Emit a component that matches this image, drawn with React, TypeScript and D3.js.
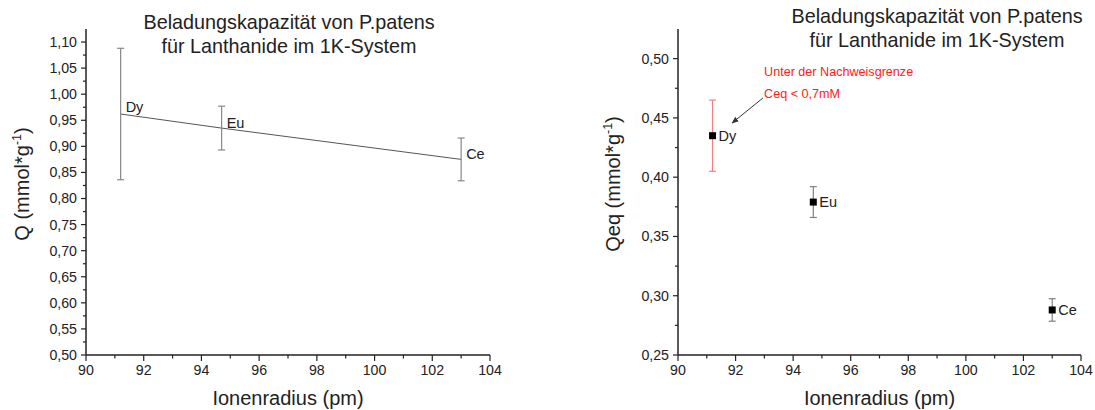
import React from "react";
import * as d3 from "d3";

const elements = ["Dy", "Eu", "Ce"];
const radius = [91.2, 94.7, 103.0];
const qLeft = [0.962, 0.935, 0.875];
const qLeftErr = [0.126, 0.042, 0.041];
const qeq = [0.435, 0.379, 0.288];
const qeqErr = [0.03, 0.013, 0.0095];
const errColorsRight = ["#f08080", "#808080", "#808080"];

const titleLines = ["Beladungskapazität von P.patens", "für Lanthanide im 1K-System"];
const xLabel = "Ionenradius (pm)";
const xMajor = [90, 92, 94, 96, 98, 100, 102, 104];
const xMinor = [91, 93, 95, 97, 99, 101, 103];
const leftYMajor = [0.5, 0.55, 0.6, 0.65, 0.7, 0.75, 0.8, 0.85, 0.9, 0.95, 1.0, 1.05, 1.1];
const rightYMajor = [0.25, 0.3, 0.35, 0.4, 0.45, 0.5];
const annotation = ["Unter der Nachweisgrenze", "Ceq < 0,7mM"];

const FONT = "'Liberation Sans', Arial, sans-serif";
const fmt = (v: number) => d3.format(".2f")(v).replace(".", ",");

type PanelProps = {
  x0: number;
  x1: number;
  yDomain: [number, number];
  yMajor: number[];
  yStep: number;
  yLabelMain: string;
  yLabelX: number;
  titleX: number;
  titleY: number;
};

const Y_TOP = 29;
const Y_BOT = 355;

function Axes({ x0, x1, yDomain, yMajor, yStep, yLabelMain, yLabelX, titleX, titleY }: PanelProps) {
  const x = d3.scaleLinear().domain([90, 104]).range([x0, x1]);
  const y = d3.scaleLinear().domain(yDomain).range([Y_BOT, Y_TOP]);
  const yMinor: number[] = [];
  for (const v of yMajor) {
    const m = v + yStep / 2;
    if (m < yDomain[1]) yMinor.push(m);
  }
  const cx = (x0 + x1) / 2;
  return (
    <g fontFamily={FONT}>
      <text x={titleX} y={titleY} textAnchor="middle" fontSize={19.8} fill="#222">
        {titleLines[0]}
      </text>
      <text x={titleX} y={titleY + 24} textAnchor="middle" fontSize={19.8} fill="#222">
        {titleLines[1]}
      </text>
      <line x1={x0} x2={x0} y1={Y_TOP} y2={Y_BOT} stroke="#222" strokeWidth={1.5} />
      <line x1={x0} x2={x1} y1={Y_BOT} y2={Y_BOT} stroke="#222" strokeWidth={1.5} />
      {yMajor.map((v) => (
        <g key={"ym" + v}>
          <line x1={x0 - 5} x2={x0} y1={y(v)} y2={y(v)} stroke="#222" strokeWidth={1.2} />
          <text x={x0 - 9} y={y(v)} dy="0.35em" textAnchor="end" fontSize={14.2} fill="#222">
            {fmt(v)}
          </text>
        </g>
      ))}
      {yMinor.map((v) => (
        <line key={"yn" + v} x1={x0 - 3} x2={x0} y1={y(v)} y2={y(v)} stroke="#222" strokeWidth={1.2} />
      ))}
      {xMajor.map((v) => (
        <g key={"xm" + v}>
          <line x1={x(v)} x2={x(v)} y1={Y_BOT} y2={Y_BOT + 6} stroke="#222" strokeWidth={1.2} />
          <text x={x(v)} y={Y_BOT + 19.5} textAnchor="middle" fontSize={14.2} fill="#222">
            {v}
          </text>
        </g>
      ))}
      {xMinor.map((v) => (
        <line key={"xn" + v} x1={x(v)} x2={x(v)} y1={Y_BOT} y2={Y_BOT + 3.5} stroke="#222" strokeWidth={1.2} />
      ))}
      <text x={cx} y={405} textAnchor="middle" fontSize={20} fill="#222">
        {xLabel}
      </text>
      <text
        transform={`translate(${yLabelX},${(Y_TOP + Y_BOT) / 2 - 8}) rotate(-90)`}
        textAnchor="middle"
        dy="0.35em"
        fontSize={20}
        fill="#222"
      >
        {yLabelMain + " (mmol*g"}
        <tspan fontSize={12.5} dy={-8}>-1</tspan>
        <tspan dy={8}>)</tspan>
      </text>
    </g>
  );
}

export default function App() {
  const lx0 = 86,
    lx1 = 490;
  const rx0 = 678,
    rx1 = 1081;
  const xl = d3.scaleLinear().domain([90, 104]).range([lx0, lx1]);
  const yl = d3.scaleLinear().domain([0.5, 1.125]).range([Y_BOT, Y_TOP]);
  const xr = d3.scaleLinear().domain([90, 104]).range([rx0, rx1]);
  const yr = d3.scaleLinear().domain([0.25, 0.525]).range([Y_BOT, Y_TOP]);

  const leftLine = d3
    .line<number>()
    .x((_, i) => xl(radius[i]))
    .y((d) => yl(d))(qLeft);

  return (
    <svg
      width={1095}
      height={410}
      style={{ position: "absolute", left: 0, top: 0, background: "#fff" }}
    >
      <rect width={1095} height={410} fill="#fff" />
      <Axes
        x0={lx0}
        x1={lx1}
        yDomain={[0.5, 1.125]}
        yMajor={leftYMajor}
        yStep={0.05}
        yLabelMain="Q"
        yLabelX={22}
        titleX={289}
        titleY={29}
      />
      <Axes
        x0={rx0}
        x1={rx1}
        yDomain={[0.25, 0.525]}
        yMajor={rightYMajor}
        yStep={0.05}
        yLabelMain="Qeq"
        yLabelX={613}
        titleX={937}
        titleY={23}
      />
      {/* Left panel */}
      <path d={leftLine || ""} fill="none" stroke="#555" strokeWidth={1} />
      {elements.map((el, i) => {
        const px = xl(radius[i]);
        const top = yl(qLeft[i] + qLeftErr[i]);
        const bot = yl(qLeft[i] - qLeftErr[i]);
        return (
          <g key={"l" + el}>
            <line x1={px} x2={px} y1={top} y2={bot} stroke="#888" strokeWidth={1.2} />
            <line x1={px - 3.5} x2={px + 3.5} y1={top} y2={top} stroke="#888" strokeWidth={1.2} />
            <line x1={px - 3.5} x2={px + 3.5} y1={bot} y2={bot} stroke="#888" strokeWidth={1.2} />
            <text
              x={px + 5}
              y={yl(qLeft[i]) - (i === 0 ? 2 : 0)}
              fontFamily={FONT}
              fontSize={14.5}
              fill="#222"
            >
              {el}
            </text>
          </g>
        );
      })}
      {/* Right panel */}
      {elements.map((el, i) => {
        const px = xr(radius[i]);
        const py = yr(qeq[i]);
        const top = yr(qeq[i] + qeqErr[i]);
        const bot = yr(qeq[i] - qeqErr[i]);
        const c = errColorsRight[i];
        return (
          <g key={"r" + el}>
            <line x1={px} x2={px} y1={top} y2={bot} stroke={c} strokeWidth={1.2} />
            <line x1={px - 3.5} x2={px + 3.5} y1={top} y2={top} stroke={c} strokeWidth={1.2} />
            <line x1={px - 3.5} x2={px + 3.5} y1={bot} y2={bot} stroke={c} strokeWidth={1.2} />
            <rect x={px - 3.5} y={py - 3.5} width={7} height={7} fill="#000" />
            <text x={px + 6} y={py} dy="0.36em" fontFamily={FONT} fontSize={14.5} fill="#222">
              {el}
            </text>
          </g>
        );
      })}
      <defs>
        <marker id="arr" viewBox="0 0 10 10" refX={9} refY={5} markerWidth={7} markerHeight={7} orient="auto">
          <path d="M0,1 L10,5 L0,9 Z" fill="#333" />
        </marker>
      </defs>
      <line
        x1={xr(92.95)}
        y1={yr(0.4668)}
        x2={xr(91.88)}
        y2={yr(0.4457)}
        stroke="#333"
        strokeWidth={1}
        markerEnd="url(#arr)"
      />
      <text x={xr(92.99)} y={yr(0.4888)} dy="0.35em" fontFamily={FONT} fontSize={12.6} fill="#ff2020">
        {annotation[0]}
      </text>
      <text x={xr(92.99)} y={yr(0.4703)} dy="0.35em" fontFamily={FONT} fontSize={12.6} fill="#ff2020">
        {annotation[1]}
      </text>
    </svg>
  );
}
